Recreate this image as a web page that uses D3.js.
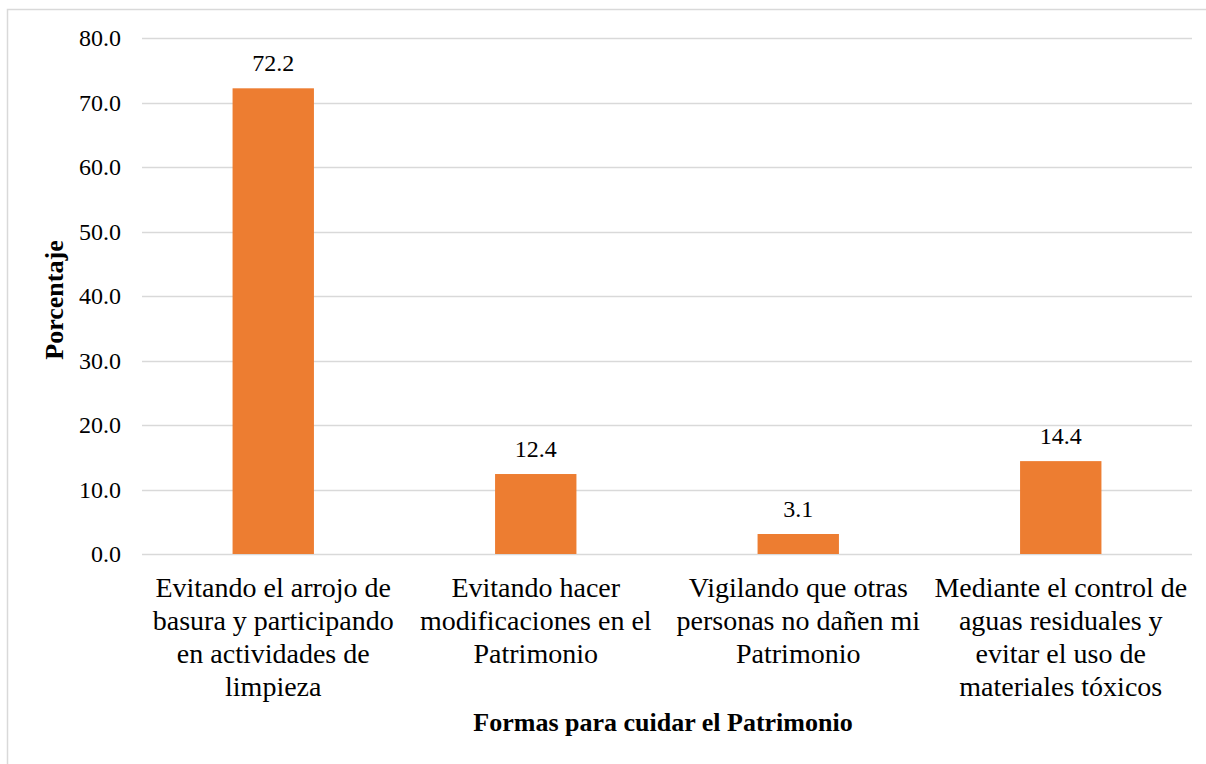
<!DOCTYPE html>
<html>
<head>
<meta charset="utf-8">
<script src="https://cdnjs.cloudflare.com/ajax/libs/d3/7.8.5/d3.min.js"></script>
<style>
  body { margin: 0; background: #fff; }
  svg text { font-family: "Liberation Serif", "Times New Roman", serif; fill: #000; }
</style>
</head>
<body>
<svg id="chart" width="1206" height="764"></svg>
<script>
// categories (one array of lines per bar) and values
var categories = [
  ['Evitando el arrojo de', 'basura y participando', 'en actividades de', 'limpieza'],
  ['Evitando hacer', 'modificaciones en el', 'Patrimonio'],
  ['Vigilando que otras', 'personas no dañen mi', 'Patrimonio'],
  ['Mediante el control de', 'aguas residuales y', 'evitar el uso de', 'materiales tóxicos']
];
var values = [72.2, 12.4, 3.1, 14.4];
var yTicks = [0, 10, 20, 30, 40, 50, 60, 70, 80];
var yTitle = 'Porcentaje';
var xTitle = 'Formas para cuidar el Patrimonio';

var svg = d3.select('#chart');
var margin = {left: 142, right: 14, top: 38, bottom: 210};
var W = 1206, H = 764;
var serif = '"Liberation Serif", "Times New Roman", serif';

// outer chart border (only top and left show inside the picture)
svg.append('rect')
  .attr('x', 7.5).attr('y', 9.5)
  .attr('width', W + 10).attr('height', H + 10)
  .attr('fill', 'none').attr('stroke', '#d9d9d9').attr('stroke-width', 1.5);

var x = d3.scaleBand()
  .domain(d3.range(values.length))
  .range([margin.left, W - margin.right])
  .paddingInner(0.69).paddingOuter(0.345);

var y = d3.scaleLinear()
  .domain([0, 80])
  .range([H - margin.bottom, margin.top]);

// gridlines
svg.append('g').selectAll('line')
  .data(yTicks)
  .join('line')
  .attr('x1', margin.left).attr('x2', W - margin.right)
  .attr('y1', function(d){ return Math.round(y(d)) + 0.5; })
  .attr('y2', function(d){ return Math.round(y(d)) + 0.5; })
  .attr('stroke', '#d9d9d9').attr('stroke-width', 1.5);

// y axis labels
var yAxis = d3.axisLeft(y).tickValues(yTicks).tickFormat(d3.format('.1f')).tickSize(0).tickPadding(21);
var gy = svg.append('g').attr('transform', 'translate(' + margin.left + ',0)').call(yAxis);
gy.attr('font-family', null);
gy.select('.domain').remove();
gy.selectAll('text')
  .style('font-family', serif)
  .style('font-size', '24px').attr('fill', '#000');

// bars
svg.append('g').selectAll('rect')
  .data(values)
  .join('rect')
  .attr('x', function(d, i){ return x(i); })
  .attr('y', function(d){ return y(d); })
  .attr('width', x.bandwidth())
  .attr('height', function(d){ return y(0) - y(d); })
  .attr('fill', '#ed7d31');

// value labels
svg.append('g').selectAll('text')
  .data(values)
  .join('text')
  .attr('x', function(d, i){ return x(i) + x.bandwidth() / 2; })
  .attr('y', function(d){ return y(d) - 17; })
  .attr('text-anchor', 'middle')
  .style('font-family', serif)
  .style('font-size', '24px')
  .text(function(d){ return d.toFixed(1); });

// category labels (wrapped)
var cat = svg.append('g').selectAll('text')
  .data(categories)
  .join('text')
  .attr('text-anchor', 'middle')
  .style('font-family', serif)
  .style('font-size', '28px');
cat.each(function(lines, i){
  var t = d3.select(this);
  lines.forEach(function(l, j){
    t.append('tspan')
      .attr('x', x(i) + x.bandwidth() / 2)
      .attr('y', y(0) + 43 + j * 33)
      .text(l);
  });
});

// axis titles
svg.append('text')
  .attr('transform', 'translate(63,' + ((y(0) + y(80)) / 2 + 4) + ') rotate(-90)')
  .attr('text-anchor', 'middle')
  .style('font-family', serif)
  .style('font-size', '26px').style('font-weight', 'bold')
  .text(yTitle);

svg.append('text')
  .attr('x', (margin.left + W - margin.right) / 2 - 4)
  .attr('y', 731)
  .attr('text-anchor', 'middle')
  .style('font-family', serif)
  .style('font-size', '26px').style('font-weight', 'bold')
  .text(xTitle);
</script>
</body>
</html>
